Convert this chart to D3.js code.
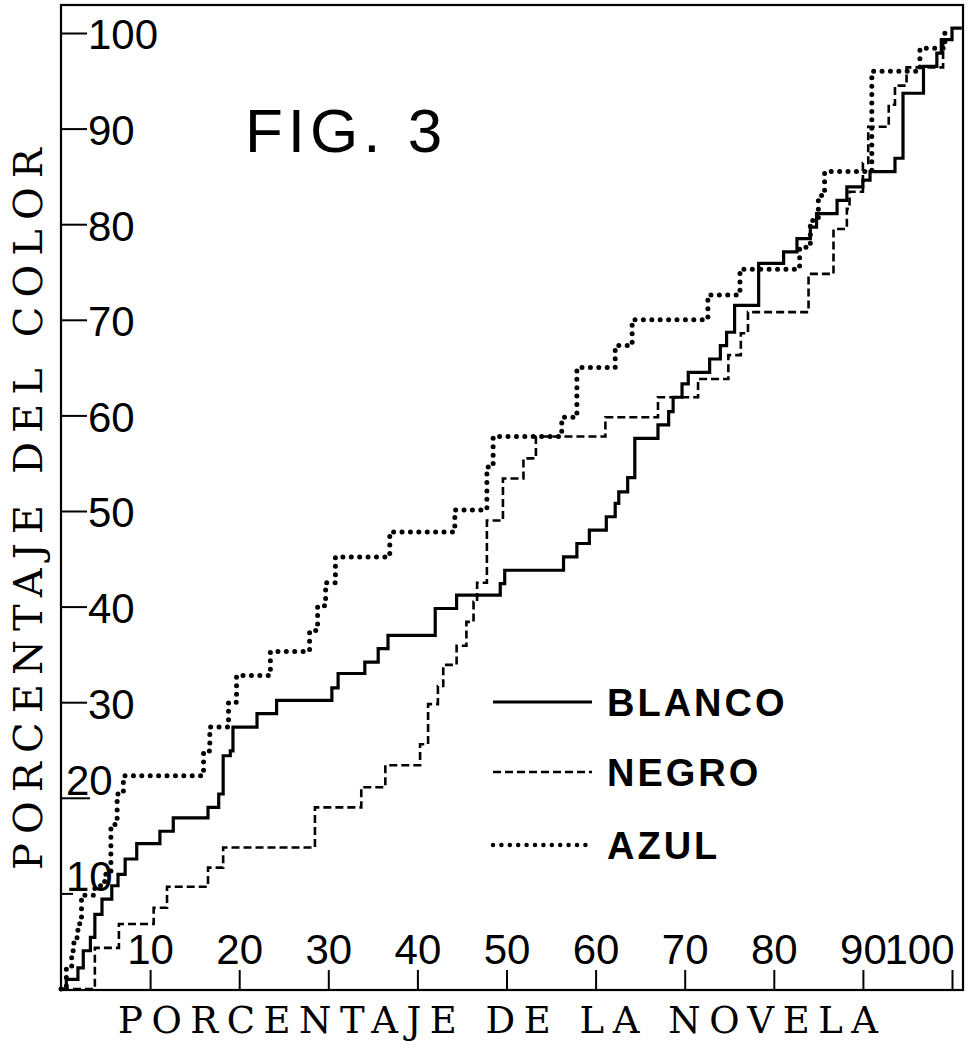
<!DOCTYPE html>
<html>
<head>
<meta charset="utf-8">
<script src="https://cdn.jsdelivr.net/npm/d3@7"></script>
<style>
  body { margin: 0; background: #fff; }
  svg { display: block; }
  .tick text { font-family: "Liberation Sans", Arial, sans-serif; font-size: 42px; fill: #000; }
  .tick line { stroke: #000; stroke-width: 2; }
</style>
</head>
<body>
<div class="container"></div>
<script>
// step curves, [% of novel, % of colour] at each corner
var blanco = [[0,0],[0.6,1.0],[1.9,2.2],[2.5,4.0],[3.3,5.4],[3.8,7.8],[4.6,9.4],[5.7,10.8],[6.4,12.0],
  [7.2,13.6],[8.5,15.2],[11.1,16.5],[12.6,17.9],[16.5,19.0],[17.7,20.4],[18.2,24.4],[19.0,24.9],
  [19.3,27.4],[22.0,28.8],[24.2,30.2],[30.4,31.5],[31.1,33.0],[34.1,34.2],[35.6,35.6],[36.7,37.0],
  [42.0,39.8],[44.4,41.2],[49.3,42.4],[49.8,43.8],[56.4,45.2],[57.9,46.6],[59.3,48.0],[61.2,49.4],
  [62.2,50.8],[62.6,52.0],[63.6,53.5],[64.4,57.6],[67.0,59.0],[68.2,60.4],[68.7,61.9],[69.7,63.3],
  [70.4,64.5],[72.8,65.9],[74.0,67.3],[74.7,68.7],[75.6,71.5],[78.3,75.9],[81.1,77.1],[82.6,78.5],
  [84.1,79.7],[84.8,81.1],[87.1,82.5],[88.2,83.9],[90.0,84.6],[90.8,85.5],[93.6,86.9],[94.5,93.7],
  [96.8,96.5],[98.3,97.9],[98.8,99.3],[100,100.5],[101.1,100.5]];

var negro = [[0,0],[3.8,4.3],[6.5,6.8],[10.4,8.5],[11.9,10.7],[16.5,12.7],[18.2,14.8],[28.5,19.0],
  [33.7,21.1],[36.4,23.4],[40.3,25.6],[41.2,29.8],[42.3,31.7],[42.9,33.9],[44.4,35.9],[45.5,38.4],
  [46.3,40.5],[46.7,42.5],[47.8,49.0],[49.6,53.4],[51.9,55.5],[53.3,57.8],[61.1,59.8],[67.0,61.9],
  [71.5,63.8],[74.9,66.3],[76.3,68.6],[77.1,70.8],[83.9,74.8],[86.7,79.5],[88.2,81.6],[88.5,83.4],
  [90.0,86.4],[90.6,90.2],[92.9,92.5],[93.6,94.5],[94.9,96.4],[99.0,99.3],[99.6,99.3]];

var azul = [[0,0],[0.6,2.2],[1.2,4.0],[1.4,4.8],[1.8,5.4],[1.9,6.4],[2.1,7.3],[2.3,9.8],[3.8,10.8],
  [4.9,12.0],[5.6,17.2],[6.3,20.4],[7.0,22.3],[16.0,24.9],[16.7,27.4],[18.8,30.0],[19.7,32.8],
  [23.5,35.3],[27.9,37.5],[28.8,40.1],[29.7,42.5],[30.8,45.2],[36.9,47.8],[44.2,50.1],[47.8,54.6],
  [48.5,57.8],[56.2,59.8],[57.9,65.0],[62.2,67.3],[64.1,70.0],[72.6,72.6],[76.2,75.3],[82.9,77.6],
  [84.1,80.4],[85.0,83.0],[85.7,85.5],[91.0,96.0],[96.4,98.4],[99.2,100.2],[99.6,100.2]];

var seriesNames = ["BLANCO", "NEGRO", "AZUL"];
var xTicks = [10, 20, 30, 40, 50, 60, 70, 80, 90, 100];
var yTicks = [10, 20, 30, 40, 50, 60, 70, 80, 90, 100];

var WIDTH = 974, HEIGHT = 1049;
var LEFT = 61, TOP = 5, RIGHT = 963, BOTTOM = 990;

var svg = d3.select('.container').append('svg')
    .attr('width', WIDTH)
    .attr('height', HEIGHT);

var xScale = d3.scaleLinear().domain([0, 100]).range([LEFT, 952]);
var yScale = d3.scaleLinear().domain([0, 100]).range([989, 33]);

// frame
svg.append('rect')
    .attr('x', LEFT).attr('y', TOP)
    .attr('width', RIGHT - LEFT).attr('height', BOTTOM - TOP)
    .attr('fill', 'none').attr('stroke', '#000').attr('stroke-width', 2.2);

// y axis, ticks pointing inwards with labels inside the frame
var yAxis = d3.axisRight(yScale).tickValues(yTicks).tickSize(26).tickPadding(1);
var yG = svg.append('g').attr('transform', 'translate(' + LEFT + ',0)').call(yAxis);
yG.select('.domain').remove();
yG.selectAll('.tick text').attr('dy', '0.38em');
// the two lowest labels sit on top of their tick
yG.selectAll('.tick').filter(function(d) { return d <= 20; })
    .each(function() {
      d3.select(this).select('text').attr('x', 5).attr('y', -3).attr('dy', 0);
    });
yG.selectAll('.tick').filter(function(d) { return d === 10; }).select('line').attr('x2', 12);
yG.selectAll('.tick').filter(function(d) { return d === 20; }).select('line').attr('x2', 29);

// x axis along the bottom, ticks pointing up
var xAxis = d3.axisTop(xScale).tickValues(xTicks).tickSize(20).tickPadding(6);
var xG = svg.append('g').attr('transform', 'translate(0,' + BOTTOM + ')').call(xAxis);
xG.select('.domain').remove();
xG.selectAll('.tick').filter(function(d) { return d === 100; }).select('text')
    .attr('text-anchor', 'end').attr('x', 2);

var line = d3.line()
    .curve(d3.curveStepAfter)
    .x(function(d) { return xScale(d[0]); })
    .y(function(d) { return yScale(d[1]); });

var styles = {
  BLANCO: { width: 3.2, dash: null, cap: 'butt' },
  NEGRO: { width: 2.6, dash: '8,4', cap: 'butt' },
  AZUL: { width: 5, dash: '0,8.4', cap: 'round' }
};
var seriesData = { BLANCO: blanco, NEGRO: negro, AZUL: azul };

var chartGroup = svg.append('g');
seriesNames.forEach(function(name) {
  var s = styles[name];
  chartGroup.append('path')
      .datum(seriesData[name])
      .attr('d', line)
      .attr('fill', 'none')
      .attr('stroke', '#000')
      .attr('stroke-width', s.width)
      .attr('stroke-linecap', s.cap)
      .attr('stroke-dasharray', s.dash);
});

// legend
var legend = svg.append('g');
var legendY = [702, 772, 845];
seriesNames.forEach(function(name, i) {
  var s = styles[name];
  legend.append('line')
      .attr('x1', 493).attr('x2', 592)
      .attr('y1', legendY[i]).attr('y2', legendY[i])
      .attr('stroke', '#000')
      .attr('stroke-width', s.width === 5 ? 4.5 : s.width)
      .attr('stroke-linecap', s.cap)
      .attr('stroke-dasharray', s.dash);
  legend.append('text')
      .attr('x', 607).attr('y', legendY[i] + 14)
      .attr('font-family', '"Liberation Sans", Arial, sans-serif')
      .attr('font-weight', 'bold')
      .attr('font-size', 38)
      .attr('letter-spacing', 3)
      .text(name);
});

// title
svg.append('text')
    .attr('x', 245).attr('y', 152)
    .attr('font-family', '"Liberation Sans", Arial, sans-serif')
    .attr('font-size', 62)
    .attr('letter-spacing', 5)
    .text('FIG. 3');

// axis titles
svg.append('text')
    .attr('x', 118).attr('y', 1033)
    .attr('font-family', '"DejaVu Serif", "Liberation Serif", serif')
    .attr('font-size', 37)
    .attr('textLength', 760)
    .attr('lengthAdjust', 'spacing')
    .text('PORCENTAJE DE LA NOVELA');

svg.append('text')
    .attr('transform', 'translate(42,870) rotate(-90)')
    .attr('font-family', '"DejaVu Serif", "Liberation Serif", serif')
    .attr('font-size', 40)
    .attr('textLength', 722)
    .attr('lengthAdjust', 'spacing')
    .text('PORCENTAJE DEL COLOR');
</script>
</body>
</html>
